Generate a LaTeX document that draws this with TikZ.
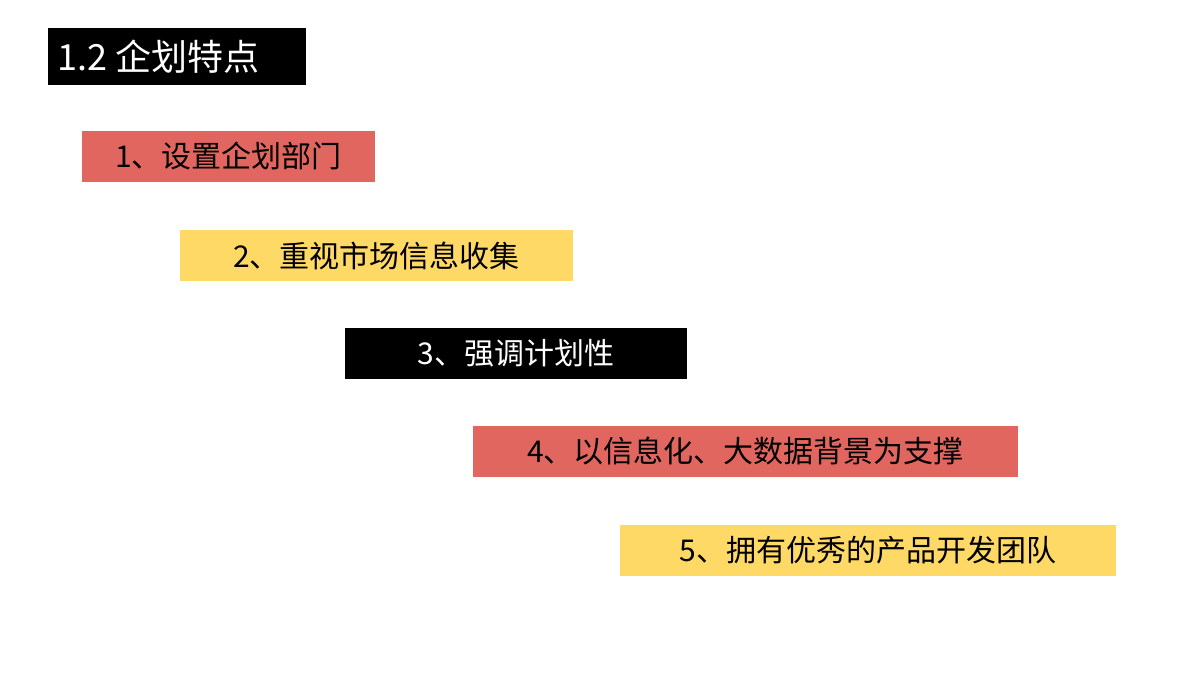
\documentclass[tikz,border=0pt]{standalone}
\usepackage{fontspec}
\setmainfont{Noto Sans CJK SC}
\definecolor{boxred}{RGB}{224,102,95}
\definecolor{boxyel}{RGB}{255,217,102}
\tikzset{
 item/.style={inner sep=0pt,font=\fontsize{30}{34}\selectfont},
}
\begin{document}
\begin{tikzpicture}[x=1pt,y=-1pt]
\useasboundingbox[fill=white] (0,0) rectangle (1200,675);
\fill[black] (48,28) rectangle (306,85);
\node[item,anchor=west,text=white,font=\fontsize{36}{40}\selectfont] (t) at (57,57) {1.2 企划特点};
\fill[boxred] (82,131) rectangle (375,182);
\node[item] (a) at (228.5,156.5) {1、设置企划部门};
\fill[boxyel] (180,230) rectangle (573,281);
\node[item] (b) at (376.5,255.5) {2、重视市场信息收集};
\fill[black] (345,328) rectangle (687,379);
\node[item,text=white] (c) at (516,353.5) {3、强调计划性};
\fill[boxred] (473,426) rectangle (1018,477);
\node[item] (d) at (745.5,451.5) {4、以信息化、大数据背景为支撑};
\fill[boxyel] (620,525) rectangle (1116,576);
\node[item] (e) at (868,550.5) {5、拥有优秀的产品开发团队};
\end{tikzpicture}
\end{document}
